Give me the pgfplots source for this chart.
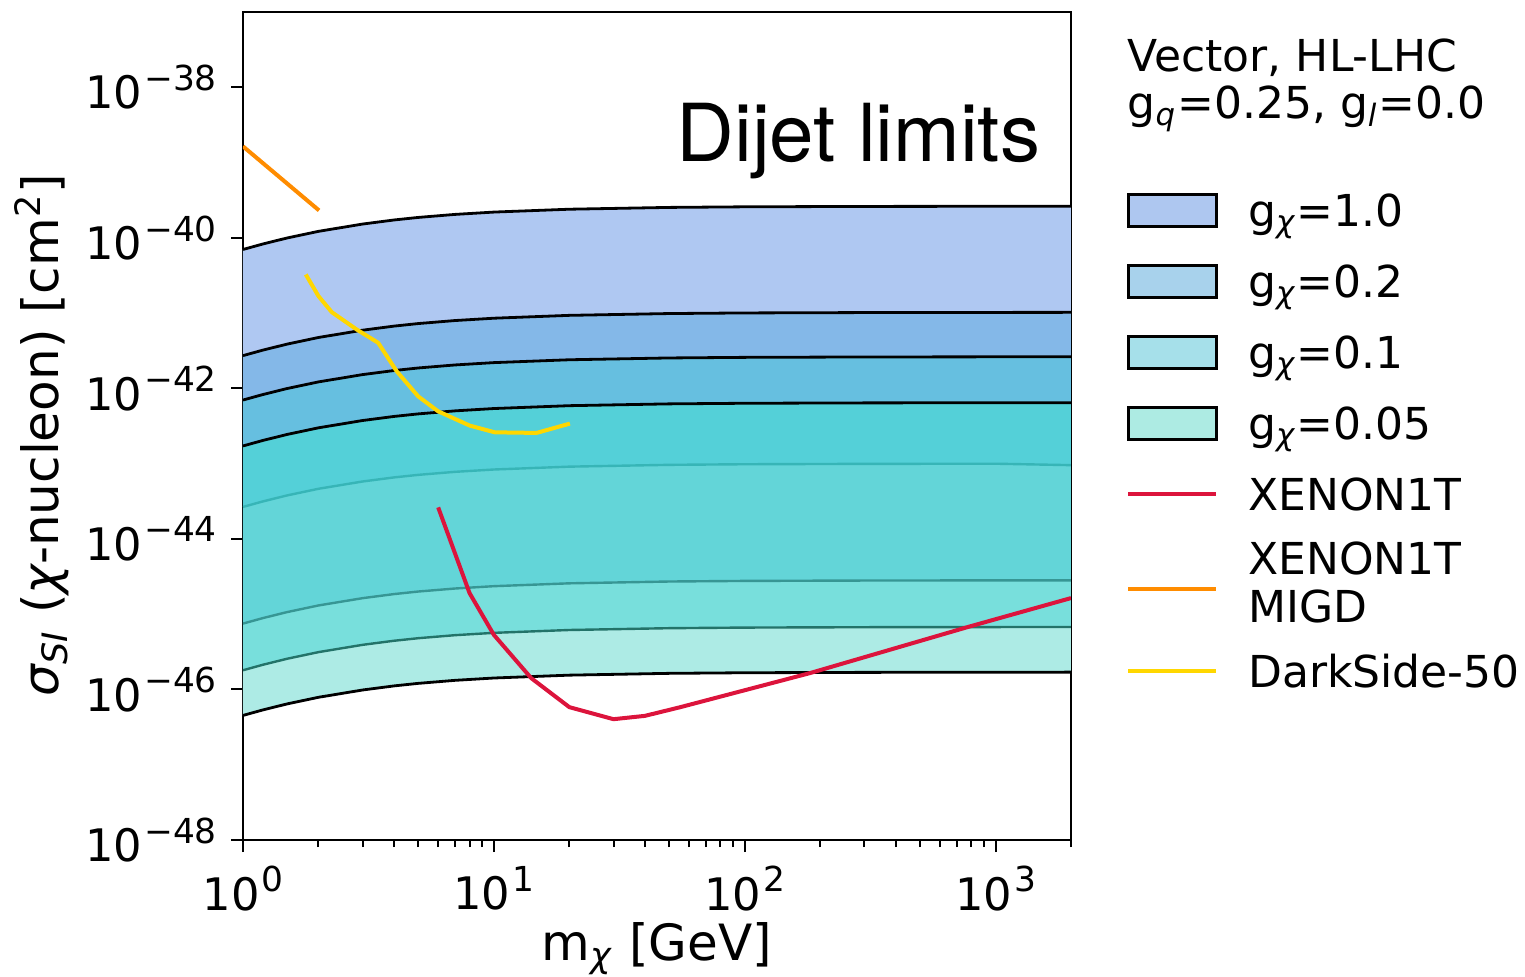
\documentclass[border=0pt]{standalone}
\usepackage{pgfplots}
\pgfplotsset{compat=1.18}
\usepackage{pgfplotstable}
\usepgfplotslibrary{fillbetween}
\usepackage{fontspec}
\setmainfont{DejaVu Sans}
\newfontfamily\heros{TeX Gyre Heros}

\definecolor{cA}{RGB}{175,200,242}
\definecolor{cB}{RGB}{132,184,232}
\definecolor{cC}{RGB}{102,191,224}
\definecolor{cD}{RGB}{84,208,216}
\definecolor{cE}{RGB}{99,213,216}
\definecolor{cF}{RGB}{120,223,220}
\definecolor{cG}{RGB}{173,235,229}
\definecolor{lA}{RGB}{174,199,240}
\definecolor{lB}{RGB}{168,210,236}
\definecolor{lC}{RGB}{166,224,234}
\definecolor{lD}{RGB}{173,235,227}
\definecolor{ln5}{RGB}{55,181,183}
\definecolor{ln6}{RGB}{55,150,148}
\definecolor{ln7}{RGB}{35,115,105}
\definecolor{xred}{RGB}{220,20,60}
\definecolor{xorange}{RGB}{255,140,0}
\definecolor{xgold}{RGB}{255,215,0}

\newcommand{\chisub}{\textsubscript{\itshape χ}}
\newcommand{\sups}[1]{\kern0.5pt\raisebox{4.6pt}{\fontsize{8.6}{10}\selectfont #1}}

% log10 of sigma_SI [cm^2] versus m_chi [GeV]
\pgfplotstableread{
m     L1      L2      L3      L4      L5      L6      L7      L8
1     -40.155 -41.565 -42.155 -42.765 -43.575 -45.125 -45.745 -46.345
1.2   -40.082 -41.492 -42.082 -42.692 -43.502 -45.052 -45.672 -46.272
1.5   -40.002 -41.412 -42.002 -42.612 -43.422 -44.972 -45.592 -46.192
2     -39.914 -41.324 -41.914 -42.524 -43.334 -44.884 -45.504 -46.104
3     -39.817 -41.227 -41.817 -42.427 -43.237 -44.787 -45.407 -46.007
4     -39.763 -41.173 -41.763 -42.373 -43.183 -44.733 -45.353 -45.953
5     -39.729 -41.139 -41.729 -42.339 -43.149 -44.699 -45.319 -45.919
7     -39.689 -41.099 -41.689 -42.299 -43.109 -44.659 -45.279 -45.879
10    -39.658 -41.068 -41.658 -42.268 -43.078 -44.628 -45.248 -45.848
20    -39.620 -41.030 -41.620 -42.230 -43.040 -44.590 -45.210 -45.810
50    -39.596 -41.006 -41.596 -42.206 -43.016 -44.566 -45.186 -45.786
100   -39.588 -40.998 -41.588 -42.198 -43.008 -44.558 -45.178 -45.778
300   -39.583 -40.993 -41.583 -42.193 -43.003 -44.553 -45.173 -45.773
1000  -39.581 -40.991 -41.581 -42.191 -43.001 -44.551 -45.171 -45.771
2000  -39.580 -40.990 -41.580 -42.190 -43.020 -44.550 -45.170 -45.770
}\bands

\pgfplotstableread{
m     y
6     -43.581
8     -44.719
10    -45.274
14.1  -45.850
20    -46.235
30    -46.395
40    -46.351
55    -46.238
182   -45.783
788   -45.164
2000  -44.786
}\xenon

\pgfplotstableread{
m     y
1     -38.785
2.01  -39.636
}\migd

\pgfplotstableread{
m     y
1.78  -40.487
2.0   -40.775
2.26  -40.988
2.84  -41.218
3.46  -41.395
4.10  -41.773
4.99  -42.105
6.00  -42.305
8.02  -42.495
10.09 -42.584
14.8  -42.592
20.1  -42.468
}\darkside

\begin{document}
\begin{tikzpicture}
\begin{axis}[
  width=207pt, height=207pt, scale only axis,
  xmode=log, xmin=1, xmax=2000,
  ymin=-48, ymax=-37,
  xtick={1,10,100,1000},
  xticklabels={10\sups{0},10\sups{1},10\sups{2},10\sups{3}},
  minor xtick={2,3,4,5,6,7,8,9,20,30,40,50,60,70,80,90,200,300,400,500,600,700,800,900,2000},
  ytick={-48,-46,-44,-42,-40,-38},
  yticklabels={10\sups{−48},10\sups{−46},10\sups{−44},10\sups{−42},10\sups{−40},10\sups{−38}},
  tick align=outside, xtick pos=bottom, ytick pos=left,
  major tick length=3pt, minor tick length=1.75pt,
  tick style={black, line width=0.5pt},
  axis line style={line width=0.6pt},
  ticklabel style={font=\fontsize{11.2}{13}\selectfont},
  label style={font=\fontsize{12.5}{15}\selectfont},
  xlabel={m\chisub{} [GeV]},
  ylabel={{\itshape σ\textsubscript{SI}} ({\itshape χ}-nucleon) [cm\textsuperscript{2}]},
  xlabel style={at={(axis description cs:0.5,-0.145)}, anchor=base},
  ylabel style={at={(axis description cs:-0.243,0.489)}, anchor=center},
  clip mode=individual,
  legend cell align=left,
  legend style={at={(1.0658,0.8045)}, anchor=north west, draw=none, fill=none,
    inner sep=0pt, row sep=0pt, column sep=7.5pt,
    cells={anchor=west},
    nodes={inner sep=0pt, text height=12.875pt, text depth=4.875pt, font=\fontsize{11}{12}\selectfont}},
]
\coordinate (sw) at (rel axis cs:0,0);
\coordinate (ne) at (rel axis cs:1,1);

\addplot[draw=none, name path=b1, forget plot] table[x=m,y=L1]{\bands};
\addplot[draw=none, name path=b2, forget plot] table[x=m,y=L2]{\bands};
\addplot[draw=none, name path=b3, forget plot] table[x=m,y=L3]{\bands};
\addplot[draw=none, name path=b4, forget plot] table[x=m,y=L4]{\bands};
\addplot[draw=none, name path=b5, forget plot] table[x=m,y=L5]{\bands};
\addplot[draw=none, name path=b6, forget plot] table[x=m,y=L6]{\bands};
\addplot[draw=none, name path=b7, forget plot] table[x=m,y=L7]{\bands};
\addplot[draw=none, name path=b8, forget plot] table[x=m,y=L8]{\bands};

\addplot[fill=cA, draw=none, forget plot] fill between[of=b1 and b2];
\addplot[fill=cB, draw=none, forget plot] fill between[of=b2 and b3];
\addplot[fill=cC, draw=none, forget plot] fill between[of=b3 and b4];
\addplot[fill=cD, draw=none, forget plot] fill between[of=b4 and b5];
\addplot[fill=cE, draw=none, forget plot] fill between[of=b5 and b6];
\addplot[fill=cF, draw=none, forget plot] fill between[of=b6 and b7];
\addplot[fill=cG, draw=none, forget plot] fill between[of=b7 and b8];

\addplot[ln5, line width=0.6pt, forget plot] table[x=m,y=L5]{\bands};
\addplot[ln6, line width=0.6pt, forget plot] table[x=m,y=L6]{\bands};
\addplot[ln7, line width=0.6pt, forget plot] table[x=m,y=L7]{\bands};
\addplot[black, line width=0.7pt, forget plot] table[x=m,y=L1]{\bands};
\addplot[black, line width=0.7pt, forget plot] table[x=m,y=L2]{\bands};
\addplot[black, line width=0.7pt, forget plot] table[x=m,y=L3]{\bands};
\addplot[black, line width=0.7pt, forget plot] table[x=m,y=L4]{\bands};
\addplot[black, line width=0.7pt, forget plot] table[x=m,y=L8]{\bands};

\addplot[xred, line width=1pt, forget plot] table[x=m,y=y]{\xenon};
\addplot[xorange, line width=1pt, forget plot] table[x=m,y=y]{\migd};
\addplot[xgold, line width=1pt, forget plot] table[x=m,y=y]{\darkside};

\addlegendimage{legend image code/.code={\draw[fill=lA, draw=black, line width=0.75pt] (0pt,-4pt) rectangle (22pt,4pt);}}
\addlegendentry{g\chisub=1.0}
\addlegendimage{legend image code/.code={\draw[fill=lB, draw=black, line width=0.75pt] (0pt,-4pt) rectangle (22pt,4pt);}}
\addlegendentry{g\chisub=0.2}
\addlegendimage{legend image code/.code={\draw[fill=lC, draw=black, line width=0.75pt] (0pt,-4pt) rectangle (22pt,4pt);}}
\addlegendentry{g\chisub=0.1}
\addlegendimage{legend image code/.code={\draw[fill=lD, draw=black, line width=0.75pt] (0pt,-4pt) rectangle (22pt,4pt);}}
\addlegendentry{g\chisub=0.05}
\addlegendimage{legend image code/.code={\draw[xred, line width=1pt] (0pt,0pt) -- (22pt,0pt);}}
\addlegendentry{XENON1T}
\addlegendimage{legend image code/.code={\draw[xorange, line width=1pt] (0pt,-1.6pt) -- (22pt,-1.6pt);}}
\addlegendentry[text height=23.25pt, text depth=3.25pt]{\vbox{\baselineskip=12pt\lineskiplimit=-20pt\hbox{XENON1T}\hbox{MIGD}}}
\addlegendimage{legend image code/.code={\draw[xgold, line width=1pt] (0pt,0pt) -- (22pt,0pt);}}
\addlegendentry{DarkSide-50}

\node[anchor=base east, inner sep=0pt, font=\heros\fontsize{20}{24}\selectfont] at (rel axis cs:0.9638,0.8192) {Dijet limits};
\node[anchor=north west, align=left, inner sep=0pt, font=\fontsize{11}{11.75}\selectfont] at (rel axis cs:1.0676,0.9686) {Vector, HL-LHC\\g\textsubscript{\itshape q}=0.25, g\textsubscript{\itshape l}=0.0};
\end{axis}
\pgfresetboundingbox
\useasboundingbox ([shift={(-60.75pt,-34.25pt)}]sw) rectangle ([shift={(113.5pt,3pt)}]ne);
\end{tikzpicture}
\end{document}
